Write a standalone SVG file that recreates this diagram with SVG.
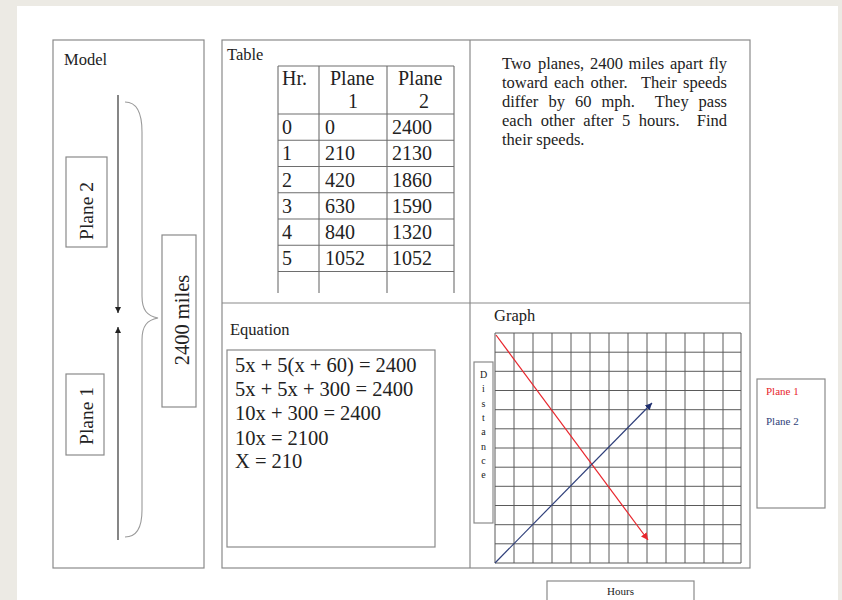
<svg xmlns="http://www.w3.org/2000/svg" width="842" height="600" viewBox="0 0 842 600">
<style>
  .box{fill:#fff;stroke:#8a8a8a;stroke-width:1.2}
  .t{font-family:"Liberation Serif","Times New Roman",serif;fill:#222}
  .lbl{font-size:16.5px}
  .pt{font-size:16.5px}
  .tb{font-size:20px}
  .eq{font-size:20.5px}
  .tl{stroke:#6e6e6e;stroke-width:1.1;fill:none}
  .grid{stroke:#5a5a5a;stroke-width:1;fill:none}
</style>
<defs>
  <marker id="ak" viewBox="0 0 10 10" refX="10" refY="5" markerUnits="userSpaceOnUse" markerWidth="6" markerHeight="6" orient="auto"><path d="M0,0 L10,5 L0,10 z" fill="#222"/></marker>
  <marker id="ar" viewBox="0 0 10 10" refX="10" refY="5" markerUnits="userSpaceOnUse" markerWidth="7" markerHeight="7" orient="auto"><path d="M0,0 L10,5 L0,10 z" fill="#e8262d"/></marker>
  <marker id="ab" viewBox="0 0 10 10" refX="10" refY="5" markerUnits="userSpaceOnUse" markerWidth="7" markerHeight="7" orient="auto"><path d="M0,0 L10,5 L0,10 z" fill="#1f2f6f"/></marker>
</defs>
<rect x="0" y="0" width="842" height="600" fill="#eceae4"/>
<rect x="17" y="6" width="821" height="600" fill="#ffffff"/>

<g id="model-panel">
  <rect class="box" x="53" y="40" width="151" height="528"/>
  <text class="t lbl" x="64" y="65">Model</text>
</g>
<g id="plane2-box">
  <rect class="box" x="66" y="157" width="41" height="90"/>
  <text class="t" font-size="19.5" text-anchor="middle" transform="translate(93,211) rotate(-90)">Plane 2</text>
</g>
<g id="plane1-box">
  <rect class="box" x="66" y="374" width="38" height="81"/>
  <text class="t" font-size="19.5" text-anchor="middle" transform="translate(93,416) rotate(-90)">Plane 1</text>
</g>
<g id="distance-box">
  <rect class="box" x="162" y="235" width="34" height="172"/>
  <text class="t" font-size="20.5" text-anchor="middle" transform="translate(188.5,320) rotate(-90)">2400 miles</text>
</g>

<g id="main-panel">
  <rect class="box" x="222" y="40" width="528" height="528"/>
  <line x1="470" y1="40" x2="470" y2="568" stroke="#8a8a8a" stroke-width="1.2"/>
  <line x1="222" y1="303" x2="750" y2="303" stroke="#8a8a8a" stroke-width="1.2"/>
</g>

<g id="table">
  <text class="t lbl" x="227" y="60">Table</text>
  <path class="tl" d="M278,66 H454 M278,114 H454 M278,140.25 H454 M278,166.5 H454 M278,192.75 H454 M278,219 H454 M278,245.25 H454 M278,271.5 H454 M278,66 V293 M319,66 V293 M387,66 V293 M454,66 V293"/>
  <g class="t tb">
    <text x="282" y="85">Hr.</text>
    <text x="330" y="85">Plane</text>
    <text x="353" y="108" text-anchor="middle">1</text>
    <text x="398" y="85">Plane</text>
    <text x="424" y="108" text-anchor="middle">2</text>
    <text x="282" y="134">0</text><text x="325" y="134">0</text><text x="392" y="134">2400</text>
    <text x="282" y="160.25">1</text><text x="325" y="160.25">210</text><text x="392" y="160.25">2130</text>
    <text x="282" y="186.5">2</text><text x="325" y="186.5">420</text><text x="392" y="186.5">1860</text>
    <text x="282" y="212.75">3</text><text x="325" y="212.75">630</text><text x="392" y="212.75">1590</text>
    <text x="282" y="239">4</text><text x="325" y="239">840</text><text x="392" y="239">1320</text>
    <text x="282" y="265.25">5</text><text x="325" y="265.25">1052</text><text x="392" y="265.25">1052</text>
  </g>
</g>

<g id="problem">
  <g class="t pt">
    <text y="68.7"><tspan x="502">Two</tspan><tspan x="537.92">planes,</tspan><tspan x="589.88">2400</tspan><tspan x="628.56">miles</tspan><tspan x="670">apart</tspan><tspan x="708.66">fly</tspan></text>
    <text y="87.7"><tspan x="502">toward</tspan><tspan x="554.06">each</tspan><tspan x="590.53">other.</tspan><tspan x="641.04">Their</tspan><tspan x="683.02">speeds</tspan></text>
    <text y="106.7"><tspan x="502">differ</tspan><tspan x="548.58">by</tspan><tspan x="575.01">60</tspan><tspan x="601.44">mph.</tspan><tspan x="654.76">They</tspan><tspan x="698.6">pass</tspan></text>
    <text y="125.7"><tspan x="502">each</tspan><tspan x="540.79">other</tspan><tspan x="583.26">after</tspan><tspan x="622.05">5</tspan><tspan x="638.86">hours.</tspan><tspan x="696.77">Find</tspan></text>
    <text x="502" y="144.7">their speeds.</text>
  </g>
</g>

<g id="equation">
  <text class="t lbl" x="230" y="335">Equation</text>
  <rect class="box" x="227" y="350" width="208" height="197"/>
  <g class="t eq">
    <text x="235" y="372">5x + 5(x + 60) = 2400</text>
    <text x="235" y="396.3">5x + 5x + 300 = 2400</text>
    <text x="235" y="420.3">10x + 300 = 2400</text>
    <text x="235" y="444.5">10x = 2100</text>
    <text x="235" y="468">X = 210</text>
  </g>
</g>

<g id="graph">
  <text class="t lbl" x="494" y="320.5">Graph</text>
  <path class="grid" d="M495,333 V563 M514,333 V563 M533,333 V563 M552,333 V563 M571,333 V563 M590,333 V563 M609,333 V563 M628,333 V563 M647,333 V563 M666,333 V563 M685,333 V563 M704,333 V563 M723,333 V563 M741,333 V563
  M495,333 H741 M495,352.2 H741 M495,371.3 H741 M495,390.5 H741 M495,409.7 H741 M495,428.8 H741 M495,448 H741 M495,467.2 H741 M495,486.3 H741 M495,505.5 H741 M495,524.7 H741 M495,543.8 H741 M495,563 H741"/>
</g>

<g id="distance-axis">
  <rect class="box" x="474" y="362" width="19" height="161"/>
  <g class="t" font-size="10" text-anchor="middle">
    <text x="483.5" y="378">D</text>
    <text x="483.5" y="392.3">i</text>
    <text x="483.5" y="406.6">s</text>
    <text x="483.5" y="420.9">t</text>
    <text x="483.5" y="435.2">a</text>
    <text x="483.5" y="449.5">n</text>
    <text x="483.5" y="463.8">c</text>
    <text x="483.5" y="478.1">e</text>
  </g>
</g>

<g id="hours-axis">
  <rect class="box" x="547" y="581" width="147" height="30"/>
  <text class="t" font-size="11" x="620.5" y="595" text-anchor="middle">Hours</text>
</g>

<g id="legend">
  <rect class="box" x="757" y="379" width="68" height="129"/>
  <text font-family="Liberation Serif, serif" font-size="11" x="766" y="395" fill="#e8262d">Plane 1</text>
  <text font-family="Liberation Serif, serif" font-size="11" x="766" y="425" fill="#2f3f7a">Plane 2</text>
</g>

<g id="connectors">
  <line x1="118" y1="95" x2="118" y2="313" stroke="#222" stroke-width="1.1" marker-end="url(#ak)"/>
  <line x1="118" y1="540" x2="118" y2="327" stroke="#222" stroke-width="1.1" marker-end="url(#ak)"/>
  <path d="M125,102 C137,102 142,112 142,132 L142,296 C142,310 147,316 158,318 C147,320 142,326 142,340 L142,510 C142,528 137,537 125,537" fill="none" stroke="#9a9a9a" stroke-width="1.1"/>
  <line x1="496" y1="335" x2="648" y2="540" stroke="#e8262d" stroke-width="1.2" marker-end="url(#ar)"/>
  <line x1="495" y1="563" x2="652" y2="403" stroke="#2f3f7a" stroke-width="1.2" marker-end="url(#ab)"/>
</g>
</svg>
